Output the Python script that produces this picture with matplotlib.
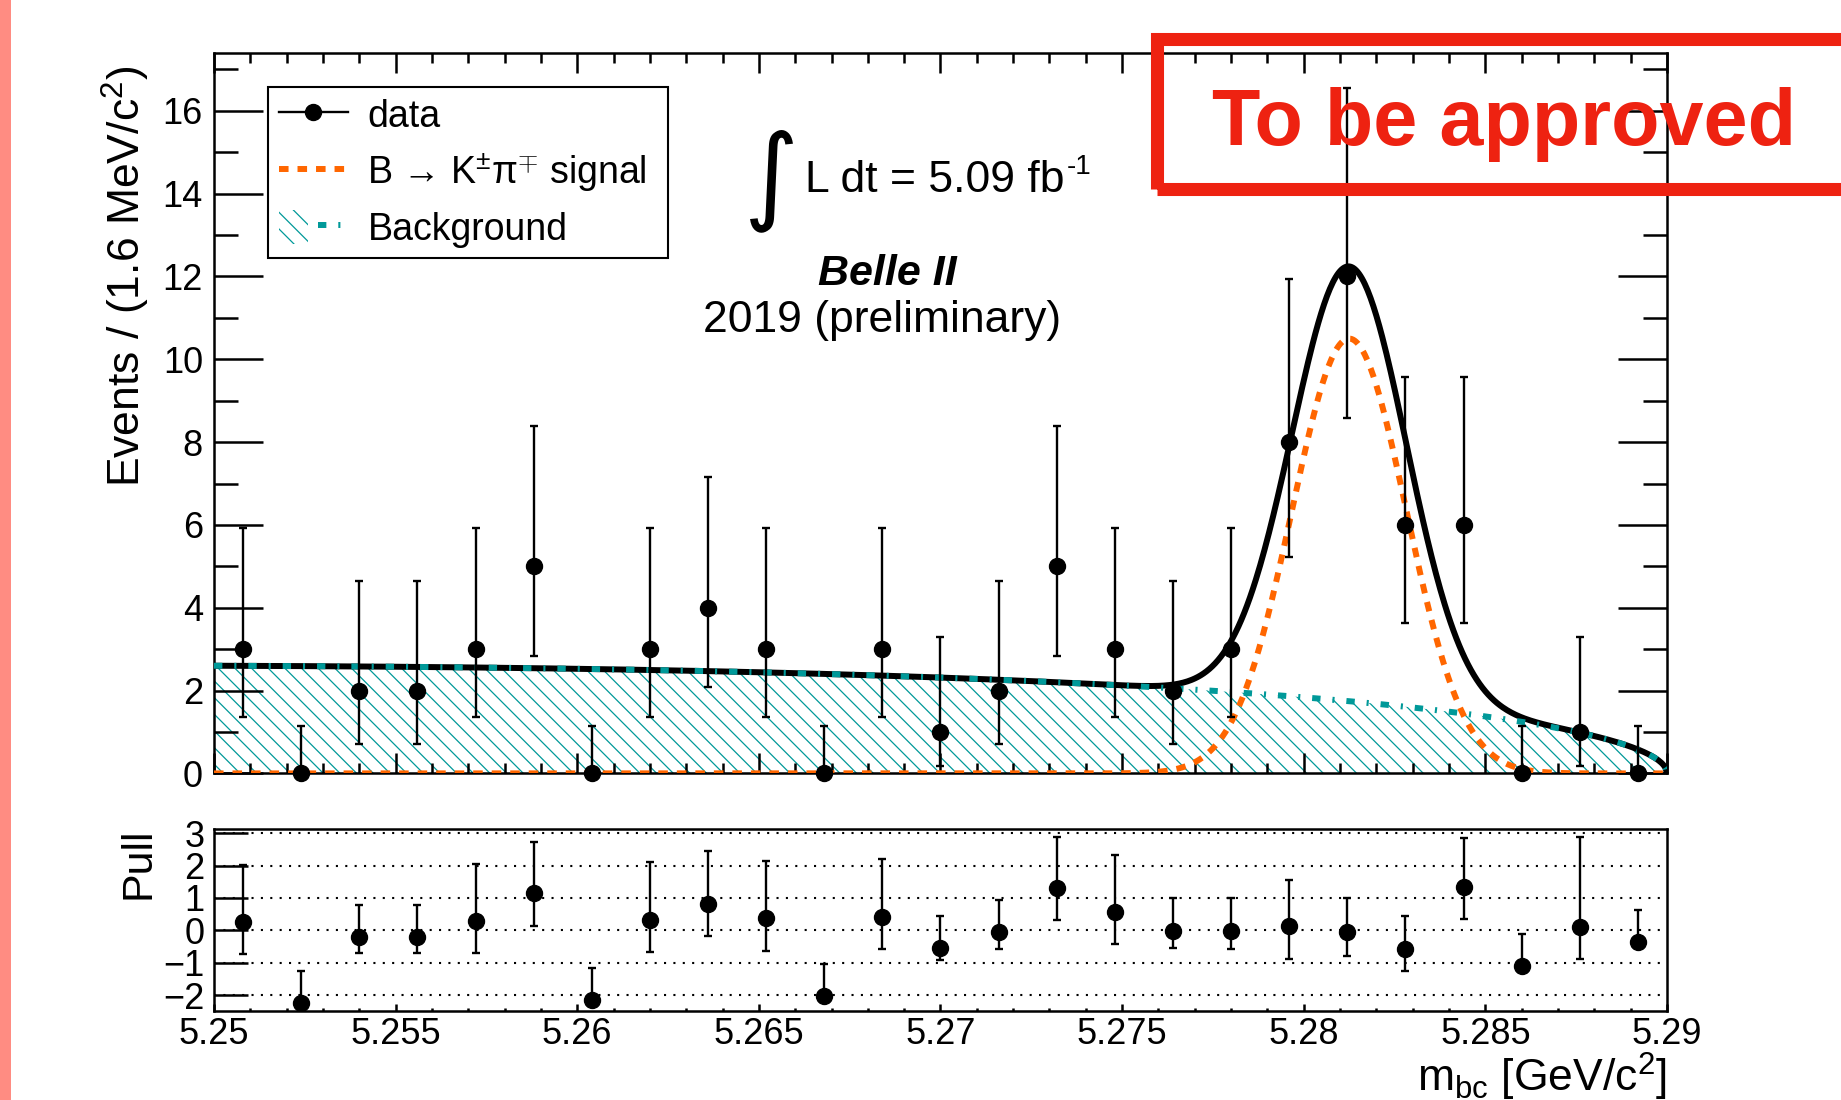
import matplotlib
matplotlib.use('Agg')
import matplotlib.pyplot as plt
import numpy as np
from matplotlib.patches import Patch, Rectangle
from matplotlib.lines import Line2D
from matplotlib.legend_handler import HandlerTuple
from matplotlib.ticker import MultipleLocator

plt.rcParams['font.family'] = ['Liberation Sans', 'DejaVu Sans']
plt.rcParams['mathtext.fontset'] = 'custom'
plt.rcParams['mathtext.rm'] = 'Liberation Sans'
plt.rcParams['mathtext.it'] = 'Liberation Sans:italic'
plt.rcParams['mathtext.bf'] = 'Liberation Sans:bold'
plt.rcParams['hatch.linewidth'] = 0.9
plt.rcParams['axes.linewidth'] = 1.8

# Mbc bins, 1.6 MeV wide, 5.25 - 5.29 GeV
mbc_bins = [5.2508, 5.2524, 5.2540, 5.2556, 5.2572, 5.2588, 5.2604, 5.2620,
            5.2636, 5.2652, 5.2668, 5.2684, 5.2700, 5.2716, 5.2732, 5.2748,
            5.2764, 5.2780, 5.2796, 5.2812, 5.2828, 5.2844, 5.2860, 5.2876,
            5.2892]
counts = [3, 0, 2, 2, 3, 5, 0, 3, 4, 3, 0, 3, 1, 2, 5, 3, 2, 3, 8, 12, 6, 6, 0, 1, 0]
# asymmetric poisson errors
err_lo = [1.63, 0, 1.29, 1.29, 1.63, 2.16, 0, 1.63, 1.91, 1.63, 0, 1.63, 0.83,
          1.29, 2.16, 1.63, 1.29, 1.63, 2.77, 3.41, 2.38, 2.38, 0, 0.83, 0]
err_hi = [2.92, 1.15, 2.64, 2.64, 2.92, 3.38, 1.15, 2.92, 3.16, 2.92, 1.15, 2.92, 2.30,
          2.64, 3.38, 2.92, 2.64, 2.92, 3.94, 4.56, 3.58, 3.58, 1.15, 2.30, 1.15]

# pulls (data - fit) / sigma
pull = [0.26, -2.23, -0.22, -0.22, 0.28, 1.14, -2.16, 0.33, 0.81, 0.38, -2.04, 0.41,
        -0.55, -0.06, 1.31, 0.56, -0.03, -0.02, 0.12, -0.04, -0.58, 1.34, -1.11, 0.10, -0.37]
pull_lo = [0.98, 0, 0.47, 0.47, 0.99, 0.99, 0, 1.00, 0.99, 1.01, 0, 0.99, 0.36,
           0.51, 0.99, 0.99, 0.50, 0.55, 1.00, 0.74, 0.66, 0.99, 0, 0.98, 0]
pull_hi = [1.77, 0.99, 1.01, 1.01, 1.78, 1.58, 1.00, 1.79, 1.65, 1.77, 1.00, 1.79, 1.00,
           0.99, 1.57, 1.78, 1.03, 1.02, 1.45, 1.03, 1.01, 1.51, 1.01, 2.79, 0.99]

# fit result: gaussian signal + argus background
sig_peak = 10.5
sig_mean = 5.28125
sig_width = 0.00157
argus_m0 = 5.29
argus_c = -30.0
bkg_scale = 6.34

teal = '#009999'
orange = '#ff6600'
red = '#ee2211'


def argus(m):
    z = np.clip(1 - (m / argus_m0) ** 2, 0, None)
    return bkg_scale * m * np.sqrt(z) * np.exp(argus_c * z)


def gauss(m):
    return sig_peak * np.exp(-0.5 * ((m - sig_mean) / sig_width) ** 2)


m = np.linspace(5.25, 5.29, 1001)
bkg = argus(m)
sig = gauss(m)

fig = plt.figure(figsize=(18.41, 11.0), dpi=100)
ax = fig.add_axes([0.11624, 0.29691, 0.78924, 0.65464])
axp = fig.add_axes([0.11624, 0.08118, 0.78924, 0.16491])

# main panel
ax.fill_between(m, 0, bkg, facecolor='none', edgecolor=teal, hatch='\\\\', linewidth=0, zorder=1)
ax.plot(m, bkg + sig, color='k', lw=4.3, zorder=2)
ax.plot(m, bkg, color=teal, lw=4.3, ls=(0, (1.4, 2.0, 0.35, 2.0)), dash_capstyle='butt', zorder=3)
ax.plot(m, sig, color=orange, lw=4.3, ls=(0, (1.6, 1.5)), dash_capstyle='butt', zorder=4)
ax.errorbar(mbc_bins, counts, yerr=[err_lo, err_hi], fmt='o', color='k', ms=11.5,
            elinewidth=1.7, capsize=2.6, capthick=1.7, zorder=5, clip_on=False)

ax.set_xlim(5.25, 5.29)
ax.set_ylim(0, 17.39)
ax.xaxis.set_major_locator(MultipleLocator(0.005))
ax.xaxis.set_minor_locator(MultipleLocator(0.001))
ax.yaxis.set_major_locator(MultipleLocator(2))
ax.yaxis.set_minor_locator(MultipleLocator(1))
ax.tick_params(which='both', direction='in', top=True, right=True, width=1.8, labelsize=26)
ax.tick_params(axis='x', which='major', length=14.4, labelbottom=False)
ax.tick_params(axis='x', which='minor', length=7.2)
ax.tick_params(axis='y', which='major', length=35, pad=8)
ax.tick_params(axis='y', which='minor', length=17.6)
ax.set_ylabel('Events / (1.6 MeV/c$^{2}$)', fontsize=32)
ax.yaxis.set_label_coords(-0.0427, 0.69)

# legend
h_data = Line2D([], [], color='k', marker='o', ms=11.5, lw=1.7)
h_sig = Line2D([], [], color=orange, lw=4.3, ls=(0, (1.6, 1.5)), dash_capstyle='butt')
h_bkg = (Patch(facecolor='none', edgecolor=teal, hatch='\\\\', linewidth=0),
         Line2D([], [], color=teal, lw=4.3, ls=(0, (1.4, 2.0, 0.35, 2.0)), dash_capstyle='butt'))
leg = ax.legend([h_data, h_sig, h_bkg],
                ['data', 'B \u2192 K$^{\\pm}$\u03c0$^{\\mp}$ signal', 'Background'],
                handler_map={tuple: HandlerTuple(ndivide=None)},
                loc='upper left', bbox_to_anchor=(0.0372, 0.0, 0.2753, 0.9532), mode='expand',
                borderaxespad=0, fontsize=27, fancybox=False, framealpha=1, edgecolor='k',
                borderpad=0.28, labelspacing=0.43, handlelength=1.84, handleheight=1.0,
                handletextpad=0.53)
leg.get_frame().set_linewidth(1.5)

# luminosity and experiment labels
ax.text(0.384, 0.8227, '\u222b', transform=ax.transAxes, fontsize=76, ha='center', va='center',
        family='DejaVu Sans')
lumi = ax.text(0.4067, 0.8078, 'L dt = 5.09 fb', transform=ax.transAxes, fontsize=32,
               ha='left', va='baseline')
ax.annotate('-1', xy=(1.0, 0.81), xycoords=lumi, xytext=(1.5, 0), textcoords='offset points',
            fontsize=20, ha='left', va='center')
ax.text(0.4632, 0.6782, 'Belle II', transform=ax.transAxes, fontsize=31, ha='center',
        va='baseline', weight='bold', style='italic')
ax.text(0.4597, 0.6134, '2019 (preliminary)', transform=ax.transAxes, fontsize=32,
        ha='center', va='baseline')

# pull panel
axp.errorbar(mbc_bins, pull, yerr=[pull_lo, pull_hi], fmt='o', color='k', ms=11.5,
             elinewidth=1.7, capsize=2.6, capthick=1.7, zorder=5)
axp.set_xlim(5.25, 5.29)
axp.set_ylim(-2.48, 3.12)
axp.xaxis.set_major_locator(MultipleLocator(0.005))
axp.xaxis.set_minor_locator(MultipleLocator(0.001))
axp.yaxis.set_major_locator(MultipleLocator(1))
axp.yaxis.grid(True, color='k', lw=1.5, ls=(0, (1, 3.5)))
axp.tick_params(which='both', direction='in', width=1.8, labelsize=26)
axp.tick_params(axis='x', which='major', length=5, pad=4.5)
axp.tick_params(axis='x', which='minor', length=2.5)
axp.tick_params(axis='y', which='major', length=24.5, pad=7)
axp.xaxis.set_major_formatter(plt.FuncFormatter(lambda v, p: f'{v:g}'))
axp.set_ylabel('Pull', fontsize=31)
axp.yaxis.set_label_coords(-0.0385, 0.814)
axp.set_xlabel(r'm$_{\rm bc}$ [GeV/c$^{2}$]', fontsize=32, ha='right')
axp.xaxis.set_label_coords(1.0, -0.222)

# approval stamp and side strip
fig.add_artist(Rectangle((0.6287, 0.8284), 0.45, 0.1364, transform=fig.transFigure,
                         fill=False, edgecolor=red, linewidth=9.4, zorder=10))
fig.text(1504 / 1841, 1 - 145 / 1100, 'To be approved', color=red, fontsize=57,
         weight='bold', ha='center', va='baseline', zorder=11)
fig.add_artist(Rectangle((0, 0), 11 / 1841, 1, transform=fig.transFigure,
                         facecolor='#ff8c82', edgecolor='none'))

fig.savefig('out.png', dpi=100)
